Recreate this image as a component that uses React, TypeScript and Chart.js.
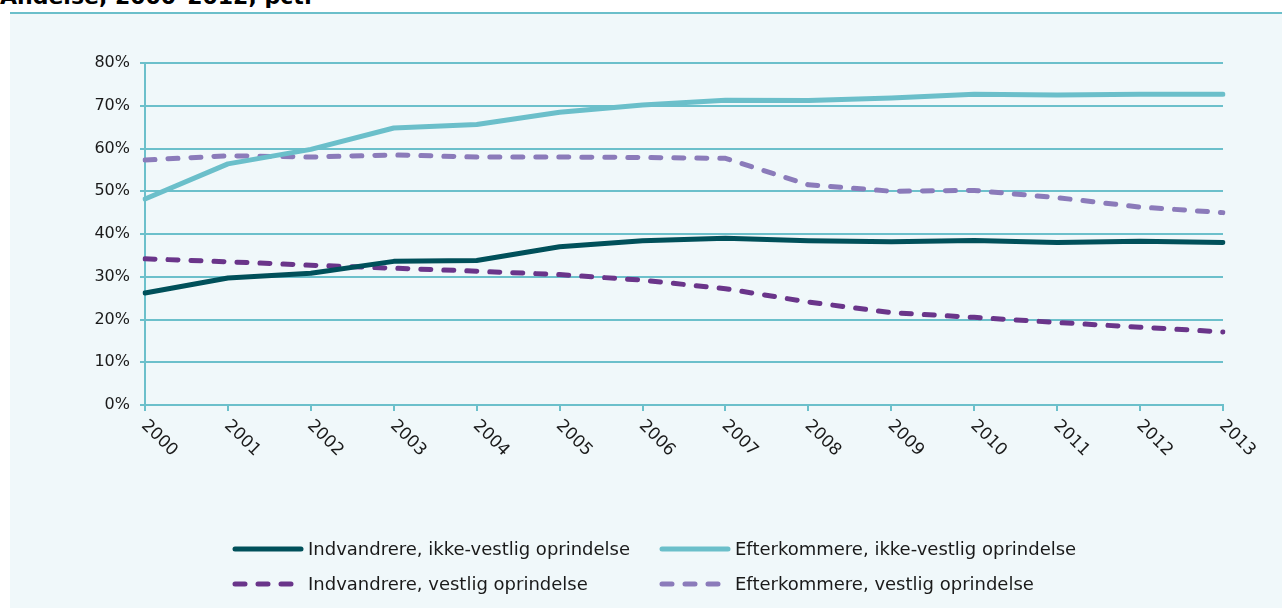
import React, { useEffect, useRef } from "react";
import { Chart, registerables } from "chart.js";

Chart.register(...registerables);

const years = ["2000","2001","2002","2003","2004","2005","2006","2007","2008","2009","2010","2011","2012","2013"];
const indvIkkeVestlig = [26.2, 29.7, 30.8, 33.6, 33.8, 37.0, 38.4, 39.0, 38.4, 38.2, 38.5, 38.0, 38.3, 38.0];
const efterIkkeVestlig = [48.2, 56.4, 59.8, 64.8, 65.6, 68.5, 70.2, 71.3, 71.2, 71.8, 72.7, 72.5, 72.7, 72.7];
const indvVestlig = [34.2, 33.5, 32.7, 32.0, 31.3, 30.5, 29.2, 27.2, 24.1, 21.6, 20.5, 19.3, 18.2, 17.1];
const efterVestlig = [57.3, 58.3, 58.0, 58.5, 58.0, 58.0, 57.9, 57.7, 51.5, 50.0, 50.2, 48.5, 46.3, 45.0];
const yTicks = [0, 10, 20, 30, 40, 50, 60, 70, 80];

const labelNames = [
  "Indvandrere, ikke-vestlig oprindelse",
  "Efterkommere, ikke-vestlig oprindelse",
  "Indvandrere, vestlig oprindelse",
  "Efterkommere, vestlig oprindelse",
];

const DARK_TEAL = "#00505a";
const LIGHT_TEAL = "#6bbfca";
const PURPLE = "#6a358a";
const LIGHT_PURPLE = "#8b7bba";
const GRID = "#6cc0cb";
const TEXT = "#1a1a1a";
const FONT = "'DejaVu Sans', sans-serif";

const xLabelPlugin = {
  id: "xLabels",
  afterDraw(chart: any) {
    const ctx = chart.ctx;
    const xs = chart.scales.x;
    const bottom = chart.chartArea.bottom;
    ctx.save();
    ctx.fillStyle = TEXT;
    ctx.font = `17px ${FONT}`;
    ctx.textAlign = "left";
    ctx.textBaseline = "middle";
    (chart.data.labels as string[]).forEach((lab, i) => {
      const x = xs.getPixelForTick(i);
      ctx.save();
      ctx.translate(x - 1, bottom + 18);
      ctx.rotate(Math.PI / 4);
      ctx.fillText(lab, 0, 0);
      ctx.restore();
    });
    ctx.restore();
  },
};

const legendPlugin = {
  id: "customLegend",
  afterDraw(chart: any) {
    const ctx = chart.ctx;
    const cols = [223, 650];
    const rows = [535, 570];
    ctx.save();
    ctx.font = `18px ${FONT}`;
    ctx.textBaseline = "middle";
    ctx.textAlign = "left";
    chart.data.datasets.forEach((ds: any, k: number) => {
      const x = cols[k % 2];
      const y = rows[Math.floor(k / 2)];
      ctx.save();
      ctx.strokeStyle = ds.borderColor;
      ctx.lineWidth = 5;
      ctx.lineCap = "round";
      ctx.setLineDash(ds.borderDash || []);
      ctx.beginPath();
      ctx.moveTo(x + 2, y);
      ctx.lineTo(x + 68, y);
      ctx.stroke();
      ctx.restore();
      ctx.fillStyle = TEXT;
      ctx.fillText(ds.label, x + 75, y + 1);
    });
    ctx.restore();
  },
};

export default function App() {
  const ref = useRef<HTMLCanvasElement | null>(null);

  useEffect(() => {
    if (!ref.current) return;
    const common = {
      pointRadius: 0,
      pointHoverRadius: 0,
      borderWidth: 5,
      tension: 0,
      fill: false,
      borderCapStyle: "round",
      borderJoinStyle: "round",
    };
    const chart = new Chart(ref.current, {
      type: "line",
      data: {
        labels: years,
        datasets: [
          { ...common, label: labelNames[0], data: indvIkkeVestlig, borderColor: DARK_TEAL, backgroundColor: DARK_TEAL },
          { ...common, label: labelNames[1], data: efterIkkeVestlig, borderColor: LIGHT_TEAL, backgroundColor: LIGHT_TEAL },
          { ...common, label: labelNames[2], data: indvVestlig, borderColor: PURPLE, backgroundColor: PURPLE, borderDash: [10, 13] },
          { ...common, label: labelNames[3], data: efterVestlig, borderColor: LIGHT_PURPLE, backgroundColor: LIGHT_PURPLE, borderDash: [10, 13] },
        ] as any,
      },
      options: {
        responsive: false,
        animation: false,
        devicePixelRatio: 1,
        layout: { padding: { top: 49, right: 59, left: 0, bottom: 0 } },
        plugins: { legend: { display: false }, tooltip: { enabled: false } },
        scales: {
          x: {
            type: "category",
            offset: false,
            grid: { drawOnChartArea: false, drawTicks: true, tickLength: 6, color: GRID, lineWidth: 2 },
            border: { color: GRID, width: 2 },
            ticks: { display: false },
            afterFit: (s: any) => { s.height = 203; },
          },
          y: {
            min: 0,
            max: 80,
            afterBuildTicks: (s: any) => { s.ticks = yTicks.map((v) => ({ value: v })); },
            ticks: {
              callback: (v: any) => `${v}%`,
              font: { family: FONT, size: 16 },
              color: TEXT,
              padding: 10,
            },
            grid: { color: GRID, lineWidth: 2, tickLength: 5, drawTicks: true },
            border: { color: GRID, width: 2 },
            afterFit: (s: any) => { s.width = 135; },
          },
        },
      } as any,
      plugins: [xLabelPlugin, legendPlugin],
    });
    return () => chart.destroy();
  }, []);

  return (
    <div style={{ position: "absolute", left: 0, top: 0, width: 1282, height: 608, overflow: "hidden", background: "#ffffff" }}>
      <div style={{ position: "absolute", left: 0, top: -16, font: `bold 22px ${FONT}`, color: "#000", whiteSpace: "nowrap" }}>
        Andelse, 2000–2012, pct.
      </div>
      <div style={{ position: "absolute", left: 10, top: 12, width: 1272, height: 2, background: LIGHT_TEAL }} />
      <div style={{ position: "absolute", left: 10, top: 14, width: 1272, height: 594, background: "#f0f8fa" }}>
        <canvas ref={ref} width={1272} height={594} style={{ display: "block", width: 1272, height: 594 }} />
      </div>
    </div>
  );
}
